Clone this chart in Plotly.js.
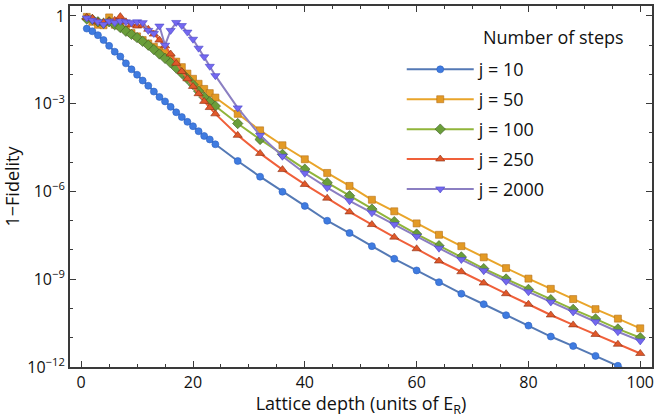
<!DOCTYPE html>
<html>
<head>
<meta charset="utf-8">
<script src="https://cdn.plot.ly/plotly-3.0.1.min.js"></script>
<style>html,body{margin:0;padding:0;background:#fff}#chart{width:658px;height:418px}</style>
</head>
<body>
<div id="chart"></div>
<script>
const depth = [1,2,3,4,5,6,7,8,9,10,11,12,13,14,15,16,17,18,19,20,21,22,23,24,
  28,32,36,40,44,48,52,56,60,64,68,72,76,80,84,88,92,96,100];

const legendTitle = "Number of steps";
const seriesNames = ["j = 10", "j = 50", "j = 100", "j = 250", "j = 2000"];

const j10 = [3.7e-1,3.0e-1,2.2e-1,1.5e-1,9.5e-2,6.0e-2,4.1e-2,2.4e-2,1.5e-2,9.8e-3,6.2e-3,4.1e-3,2.6e-3,1.7e-3,1.2e-3,7.8e-4,5.1e-4,3.5e-4,2.4e-4,1.7e-4,1.15e-4,7.9e-5,6.0e-5,4.1e-5,
  1.1e-5,3.2e-6,9.8e-7,3.2e-7,1.0e-7,3.8e-8,1.35e-8,5.0e-9,2.0e-9,7.9e-10,3.2e-10,1.4e-10,5.9e-11,2.6e-11,1.1e-11,5.2e-12,2.4e-12,1.1e-12,5.0e-13];

const j50 = [0.93,0.63,0.5,0.48,0.89,0.5,0.45,0.35,0.26,0.2,0.15,0.115,0.089,0.069,0.054,0.038,0.0275,0.0178,0.0107,7.1e-3,4.8e-3,3.2e-3,2.3e-3,1.62e-3,
  4.5e-4,1.23e-4,3.8e-5,1.26e-5,4.3e-6,1.55e-6,5.2e-7,2.1e-7,8.1e-8,3.3e-8,1.35e-8,5.6e-9,2.4e-9,1.05e-9,4.7e-10,2.1e-10,9.5e-11,4.5e-11,2.1e-11];

const j100 = [0.79,0.76,0.63,0.56,0.63,0.5,0.4,0.3,0.234,0.182,0.135,0.1,0.071,0.05,0.0355,0.025,0.0166,0.011,7.1e-3,4.5e-3,2.7e-3,1.66e-3,1.17e-3,8.3e-4,
  2.1e-4,6.0e-5,1.86e-5,5.8e-6,2.0e-6,7.1e-7,2.5e-7,9.3e-8,3.5e-8,1.4e-8,5.8e-9,2.3e-9,1.02e-9,4.5e-10,2.0e-10,9.3e-11,4.4e-11,2.0e-11,1.0e-11];

const j250 = [0.89,0.83,0.63,0.6,0.66,0.71,0.95,0.63,0.5,0.45,0.48,0.35,0.24,0.15,0.095,0.05,0.024,0.0126,7.1e-3,3.9e-3,2.2e-3,1.2e-3,7.4e-4,4.5e-4,
  8.3e-5,2.0e-5,5.6e-6,1.74e-6,5.9e-7,2.0e-7,7.4e-8,2.75e-8,1.1e-8,4.2e-9,1.8e-9,7.4e-10,3.2e-10,1.4e-10,6.0e-11,2.75e-11,1.3e-11,6.0e-12,2.9e-12];

const j2000 = [0.85,0.71,0.63,0.51,0.66,0.59,0.66,0.63,0.59,0.63,0.59,0.32,0.25,0.45,0.1,0.32,0.6,0.47,0.28,0.16,0.079,0.04,0.019,9.1e-3,
  7.2e-4,8.3e-5,1.6e-5,4.2e-6,1.35e-6,4.8e-7,1.86e-7,7.4e-8,2.9e-8,1.15e-8,4.7e-9,1.95e-9,8.5e-10,3.7e-10,1.66e-10,7.6e-11,3.5e-11,1.6e-11,7.8e-12];

const yTickVals = [1, 1e-3, 1e-6, 1e-9, 1e-12];
const yTickText = ["1", "10<sup>−3</sup>", "10<sup>−6</sup>", "10<sup>−9</sup>", "10<sup>−12</sup>"];
const yMinorVals = [1e-1,1e-2,1e-4,1e-5,1e-7,1e-8,1e-10,1e-11];
const xTickVals = [0,20,40,60,80,100];
const xMinorVals = [5,10,15,25,30,35,45,50,55,65,70,75,85,90,95];

const styles = [
  {line:'#5479b5', fill:'#3f7be0', edge:'#2e62c0', symbol:'circle', size:7},
  {line:'#e9a52a', fill:'#e39a25', edge:'#b5711a', symbol:'square', size:7},
  {line:'#91b53a', fill:'#6a9e3a', edge:'#3d5a25', symbol:'diamond', size:8},
  {line:'#f0603a', fill:'#e0582a', edge:'#8a2e10', symbol:'triangle-up', size:8},
  {line:'#8b7fc2', fill:'#7468f0', edge:'#4a48c8', symbol:'triangle-down', size:8}
];
const allY = [j10, j50, j100, j250, j2000];

const traces = allY.map((ys, i) => ({
  x: depth, y: ys, name: seriesNames[i], type: 'scatter', mode: 'lines+markers',
  legendgroup: 'g' + i,
  line: {color: styles[i].line, width: 2},
  marker: {color: styles[i].fill, symbol: styles[i].symbol, size: styles[i].size,
           line: {color: styles[i].edge, width: 0.6}}
}));

const font = "'Open Sans', 'DejaVu Sans', sans-serif";
const axisCommon = {
  showgrid: false, zeroline: false, showline: true, linecolor: '#3a3a3a', linewidth: 2,
  mirror: 'ticks', ticks: 'inside', ticklen: 6, tickwidth: 1, tickcolor: '#3a3a3a',
  tickfont: {family: font, size: 16, color: '#111'}, automargin: true
};

const layout = {
  width: 658, height: 418,
  margin: {l: 70, r: 5, t: 4, b: 51},
  paper_bgcolor: '#fff', plot_bgcolor: '#fff',
  font: {family: font, color: '#111'},
  xaxis: Object.assign({}, axisCommon, {
    range: [-2, 102.1], tickmode: 'array', tickvals: xTickVals, ticktext: xTickVals.map(String),
    minor: {tickmode: 'array', tickvals: xMinorVals, ticks: 'inside', ticklen: 3, tickcolor: '#3a3a3a'},
    title: {text: 'Lattice depth (units of E<sub>R</sub>)', font: {family: font, size: 18}, standoff: 2}
  }),
  yaxis: Object.assign({}, axisCommon, {
    type: 'log', range: [-12, 0.34], tickmode: 'array', tickvals: yTickVals, ticktext: yTickText,
    minor: {tickmode: 'array', tickvals: yMinorVals, ticks: 'inside', ticklen: 3, tickcolor: '#3a3a3a'},
    title: {text: '1−Fidelity', font: {family: font, size: 18}, standoff: 3}
  }),
  showlegend: true,
  legend: {
    x: 0.57, y: 0.875, xanchor: 'left', yanchor: 'top',
    bgcolor: 'rgba(0,0,0,0)', borderwidth: 0,
    font: {family: font, size: 18, color: '#111'},
    traceorder: 'grouped', tracegroupgap: 3.5, itemwidth: 67
  },
  annotations: [{
    text: legendTitle, xref: 'paper', yref: 'paper', x: 0.706, y: 0.915,
    xanchor: 'left', yanchor: 'middle', showarrow: false,
    font: {family: font, size: 18, color: '#111'}
  }]
};

Plotly.newPlot('chart', traces, layout, {displayModeBar: false, staticPlot: true});
</script>
</body>
</html>
